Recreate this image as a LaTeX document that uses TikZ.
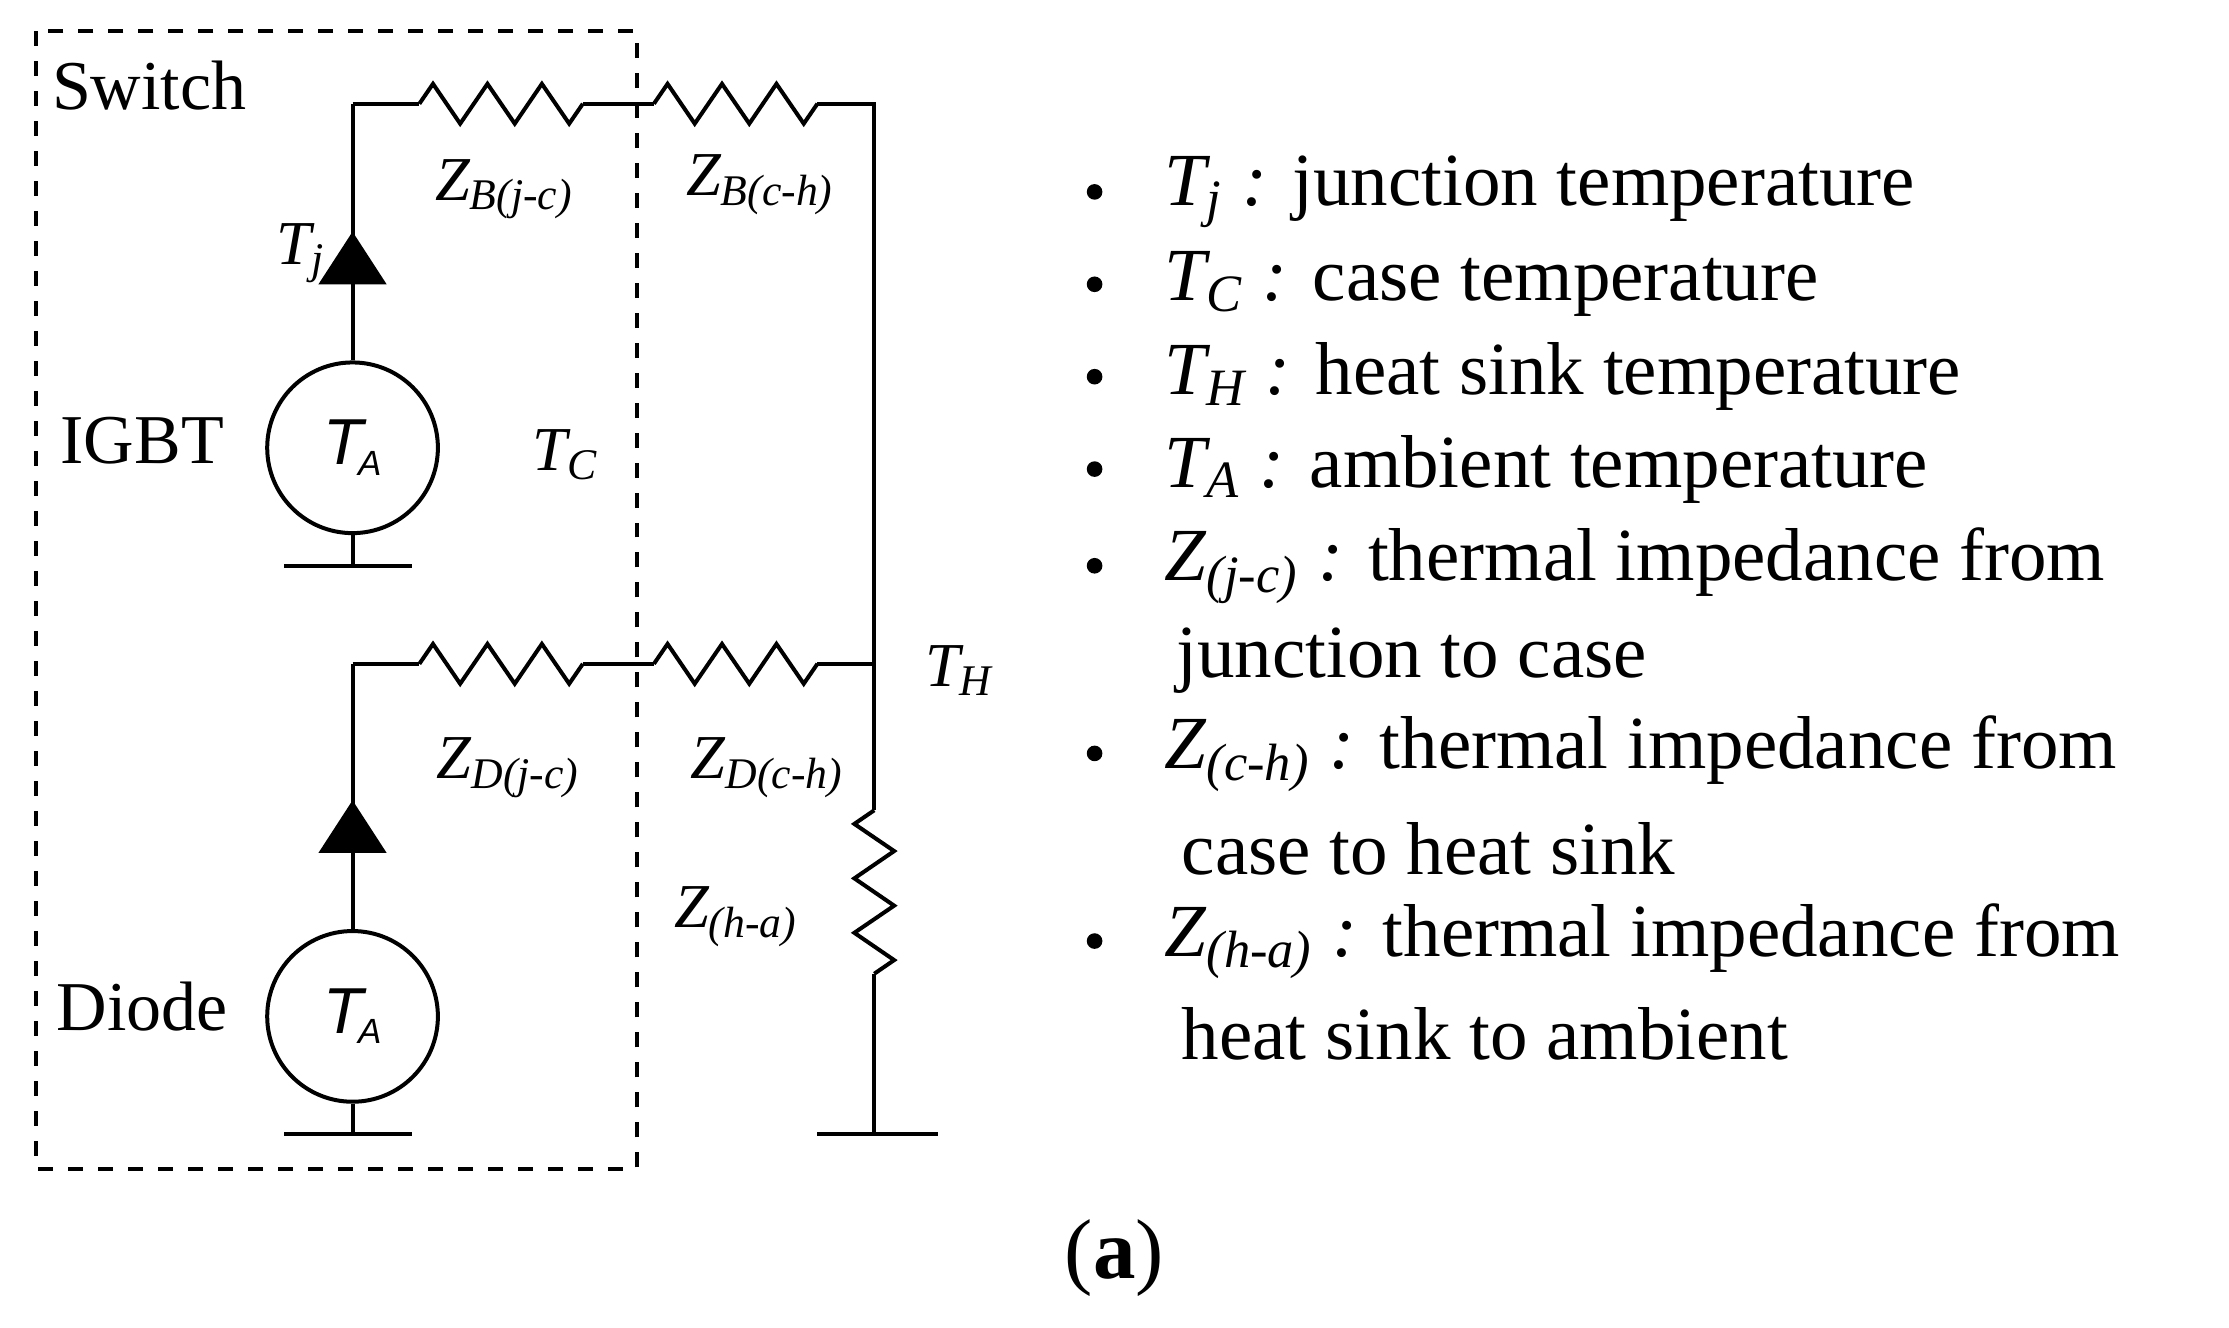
\documentclass[tikz,border=0pt]{standalone}
\usepackage{fontspec}
\setmainfont{Liberation Serif}
\newfontfamily\sansf{Liberation Sans}
\newcommand{\sbx}[1]{\textsubscript{\itshape #1}}
\begin{document}
\begin{tikzpicture}[x=0.01cm,y=-0.01cm,line width=0.8pt,
  zl/.style={font=\fontsize{12.5}{14}\selectfont\itshape},
  nm/.style={font=\fontsize{14}{16}\selectfont},
  leg/.style={font=\fontsize{15}{18}\selectfont,anchor=west,inner sep=0},
  src/.style={circle,draw,minimum size=1.2cm,inner sep=0,font=\sansf\fontsize{13}{15}\selectfont\itshape},
  res/.pic={\draw (0,0)--(9.6,-14)--(28.7,14)--(47.9,-14)--(67.1,14)--(86.2,-14)--(105.4,14)--(115,0);}]
\useasboundingbox (0,0) rectangle (1568,934);
\draw[dashed] (25,22) rectangle (448,822);
\node[nm] (sw) at (105,60) {Switch};
\coordinate (bl) at (248,73); \coordinate (b1) at (295,73); \coordinate (b2) at (410,73);
\coordinate (b3) at (460,73); \coordinate (b4) at (575,73); \coordinate (br) at (615,73);
\coordinate (dl) at (248,467); \coordinate (d1) at (295,467); \coordinate (d2) at (410,467);
\coordinate (d3) at (460,467); \coordinate (d4) at (575,467); \coordinate (dr) at (615,467);
\coordinate (h1) at (615,570); \coordinate (h2) at (615,685); \coordinate (hg) at (615,798);
\node[src] (sa) at (248,315) {T\kern-1pt\raisebox{-0.3ex}{\scriptsize A}};
\node[src] (sb) at (248,715) {T\kern-1pt\raisebox{-0.3ex}{\scriptsize A}};
\coordinate (ga) at (248,398); \coordinate (gb) at (248,798);
\draw (bl)--(b1) (b2)--(b3) (b4)--(br)--(dr);
\pic at (b1) {res}; \pic at (b3) {res};
\draw (dl)--(d1) (d2)--(d3) (d4)--(dr)--(h1) (h2)--(hg);
\pic at (d1) {res}; \pic at (d3) {res};
\pic[rotate=-90,yscale=-1] at (h1) {res};
\draw (bl)--(sa.north) (sa.south)--(ga);
\draw (dl)--(sb.north) (sb.south)--(gb);
\draw (200,398)--(290,398) (200,798)--(290,798) (575,798)--(660,798);
\fill (248,163)--(272,200)--(224,200)--cycle;
\fill (248,563)--(272,600)--(224,600)--cycle;
\node[zl] (tj) at (212,178) {T\sbx{j}};
\node[nm] (ig) at (100,310) {IGBT};
\node[nm] (di) at (100,708) {Diode};
\node[zl] (tc) at (398,320) {T\sbx{C}};
\node[zl] (th) at (675,472) {T\sbx{H}};
\node[zl] (z1) at (355,133) {Z\sbx{B(j-c)}};
\node[zl] (z2) at (535,130) {Z\sbx{B(c-h)}};
\node[zl] (z3) at (358,540) {Z\sbx{D(j-c)}};
\node[zl] (z4) at (540,540) {Z\sbx{D(c-h)}};
\node[zl] (z5) at (518,645) {Z\sbx{(h-a)}};
\foreach \y in {135,200,265,330,398,530,662} \fill (770,\y) circle (5.5);
\node[leg] (l1) at (818,135) {\textit{T\sbx{j} :} junction temperature};
\node[leg] (l2) at (818,200) {\textit{T\sbx{C} :} case temperature};
\node[leg] (l3) at (818,265) {\textit{T\sbx{H} :} heat sink temperature};
\node[leg] (l4) at (818,330) {\textit{T\sbx{A} :} ambient temperature};
\node[leg] (l5) at (818,398) {\textit{Z\sbx{(j-c)} :} thermal impedance from};
\node[leg] (l6) at (826,465) {junction to case};
\node[leg] (l7) at (818,530) {\textit{Z\sbx{(c-h)} :} thermal impedance from};
\node[leg] (l8) at (830,597) {case to heat sink};
\node[leg] (l9) at (818,662) {\textit{Z\sbx{(h-a)} :} thermal impedance from};
\node[leg] (l10) at (830,727) {heat sink to ambient};
\node[font=\fontsize{17}{20}\selectfont] (cap) at (784,885) {(\textbf{a})};
\end{tikzpicture}
\end{document}
